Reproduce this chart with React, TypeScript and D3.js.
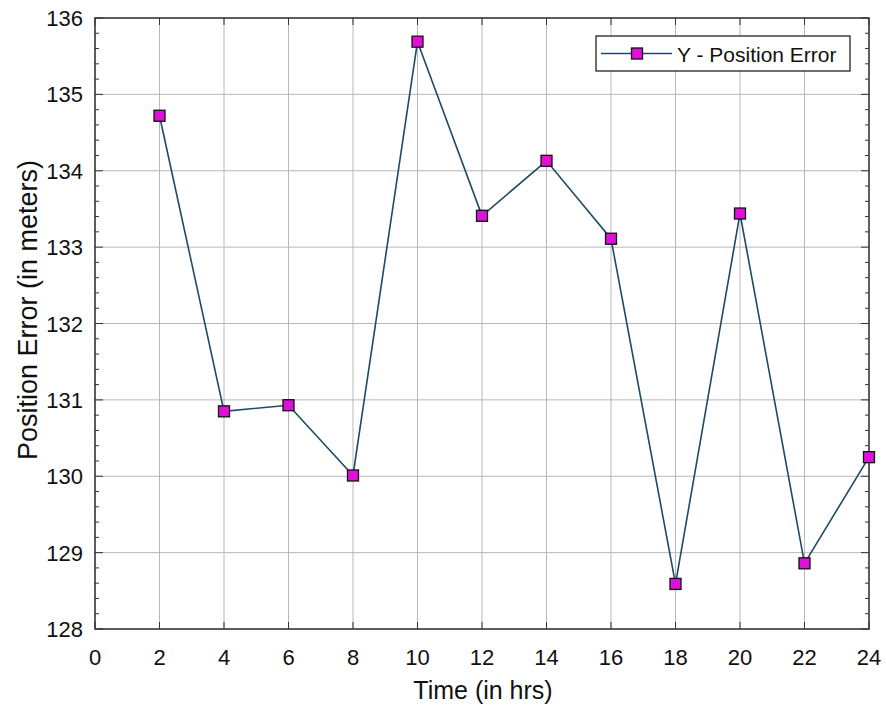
import React from "react";
import * as d3 from "d3";

const hours = [2, 4, 6, 8, 10, 12, 14, 16, 18, 20, 22, 24];
const yErrors = [134.72, 130.85, 130.93, 130.01, 135.69, 133.41, 134.13, 133.11, 128.59, 133.44, 128.86, 130.25];
const xTicks = [0, 2, 4, 6, 8, 10, 12, 14, 16, 18, 20, 22, 24];
const yTicks = [128, 129, 130, 131, 132, 133, 134, 135, 136];
const seriesName = "Y - Position Error";

export default function App() {
  const W = 886, H = 710;
  const left = 95, right = 869, top = 18, bottom = 629;
  const x = d3.scaleLinear().domain([0, 24]).range([left, right]);
  const y = d3.scaleLinear().domain([128, 136]).range([bottom, top]);
  const line = d3.line<number>().x((_, i) => x(hours[i])).y((d) => y(d));
  const minor: number[] = [];
  for (let v = 128; v < 136; v += 1) for (let k = 1; k < 5; k++) minor.push(v + k * 0.2);
  const font = "'Liberation Sans', Arial, sans-serif";
  const lineColor = "#1d4a66";
  const mk = 11;
  return (
    <svg width={W} height={H} style={{ position: "absolute", left: 0, top: 0, background: "#fff" }} fontFamily={font}>
      {/* grid */}
      {xTicks.map((t) => (
        <line key={"gx" + t} x1={x(t)} x2={x(t)} y1={top} y2={bottom} stroke="#b8b8b8" strokeWidth={1} />
      ))}
      {yTicks.map((t) => (
        <line key={"gy" + t} x1={left} x2={right} y1={y(t)} y2={y(t)} stroke="#b8b8b8" strokeWidth={1} />
      ))}
      {/* ticks */}
      {xTicks.map((t) => (
        <g key={"tx" + t}>
          <line x1={x(t)} x2={x(t)} y1={bottom} y2={bottom - 7} stroke="#333" />
          <line x1={x(t)} x2={x(t)} y1={top} y2={top + 7} stroke="#333" />
        </g>
      ))}
      {yTicks.map((t) => (
        <g key={"ty" + t}>
          <line x1={left} x2={left + 8} y1={y(t)} y2={y(t)} stroke="#333" />
          <line x1={right} x2={right - 8} y1={y(t)} y2={y(t)} stroke="#333" />
        </g>
      ))}
      {minor.map((t, i) => (
        <g key={"my" + i}>
          <line x1={left} x2={left + 4} y1={y(t)} y2={y(t)} stroke="#333" />
          <line x1={right} x2={right - 4} y1={y(t)} y2={y(t)} stroke="#333" />
        </g>
      ))}
      <rect x={left} y={top} width={right - left} height={bottom - top} fill="none" stroke="#333" strokeWidth={1.5} />
      {/* tick labels */}
      {xTicks.map((t) => (
        <text key={"lx" + t} x={x(t)} y={bottom + 36} textAnchor="middle" fontSize={22} fill="#111">{t}</text>
      ))}
      {yTicks.map((t) => (
        <text key={"ly" + t} x={left - 12} y={y(t) + 8} textAnchor="end" fontSize={22} fill="#111">{t}</text>
      ))}
      {/* axis labels */}
      <text x={483} y={699} textAnchor="middle" fontSize={25} fill="#111">Time (in hrs)</text>
      <text transform={`translate(37, 310) rotate(-90)`} textAnchor="middle" fontSize={27} fill="#111">Position Error (in meters)</text>
      {/* series */}
      <path d={line(yErrors) || ""} fill="none" stroke={lineColor} strokeWidth={1.6} />
      {yErrors.map((v, i) => (
        <rect key={"m" + i} x={x(hours[i]) - mk / 2} y={y(v) - mk / 2} width={mk} height={mk} fill="#e010d8" stroke="#111" strokeWidth={1.3} />
      ))}
      {/* legend */}
      <rect x={596} y={36} width={254} height={35} fill="#fff" stroke="#222" strokeWidth={1.3} />
      <line x1={601} x2={672} y1={53.5} y2={53.5} stroke={lineColor} strokeWidth={1.3} />
      <rect x={637 - mk / 2} y={53.5 - mk / 2} width={mk} height={mk} fill="#e010d8" stroke="#111" strokeWidth={1.3} />
      <text x={677} y={61.5} fontSize={21} fill="#111">{seriesName}</text>
    </svg>
  );
}
